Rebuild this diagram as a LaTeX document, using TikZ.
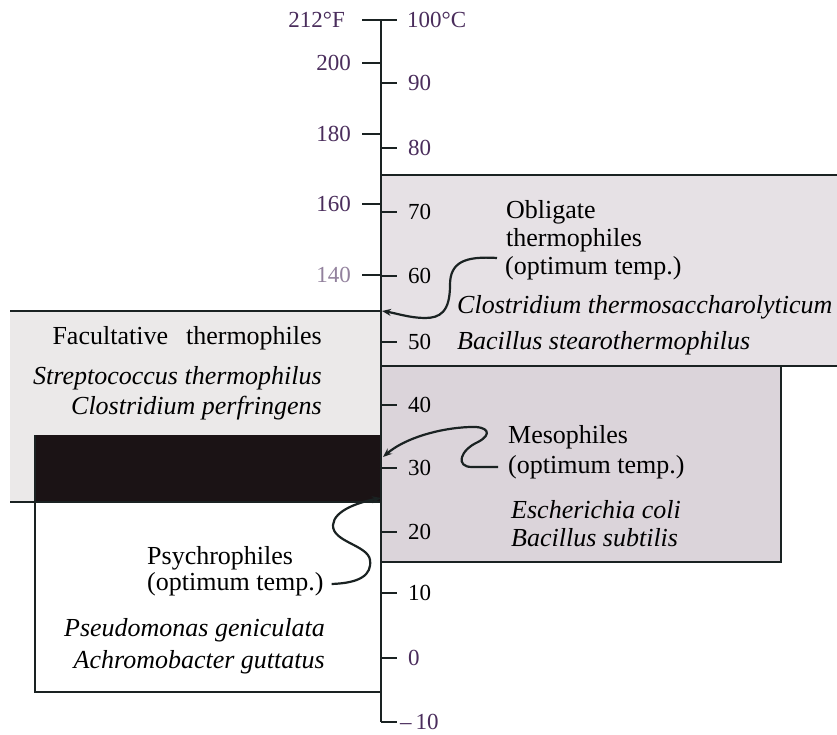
\documentclass[tikz,border=0pt]{standalone}
\usepackage{fontspec}
\setmainfont{Liberation Serif}
\usetikzlibrary{arrows.meta}
\definecolor{ink}{HTML}{1A2222}
\definecolor{scalepurple}{HTML}{4A2D5C}
\definecolor{obfill}{HTML}{E6E1E5}
\definecolor{mefill}{HTML}{DBD4DA}
\definecolor{fafill}{HTML}{EBE9E9}
\definecolor{band}{HTML}{1B1315}
\begin{document}
\begin{tikzpicture}[x=1pt,y=-1pt,
  boxline/.style={draw=ink, line width=2.2pt},
  tickline/.style={draw=ink, line width=2pt},
  maintxt/.style={font=\fontsize{26}{29}\selectfont, inner sep=0pt, text=black},
  spectxt/.style={font=\fontsize{26}{29}\selectfont\itshape, inner sep=0pt, text=black},
  flab/.style={font=\fontsize{23}{25}\selectfont, inner sep=0pt, anchor=east, text=scalepurple},
  clab/.style={font=\fontsize{23}{25}\selectfont, inner sep=0pt, anchor=west, text=black},
  conn/.style={draw=ink, line width=2.2pt},
  tipend/.style={-{Stealth[length=9pt,width=7pt]}}
]
\useasboundingbox (0,0) rectangle (837,735);
\fill[white] (0,0) rectangle (837,735);

% shaded ranges
\fill[obfill] (381,175) rectangle (837,366);
\fill[mefill] (381,366) rectangle (781,562);
\fill[fafill] (10,311) rectangle (381,502);
\fill[band] (35,435) rectangle (381,502);

% box lines
\draw[boxline] (381,175) -- (837,175);
\draw[boxline] (381,366) -- (837,366);
\draw[boxline] (781,366) -- (781,562) -- (381,562);
\draw[boxline] (10,311) -- (381,311);
\draw[boxline] (10,502) -- (381,502);
\draw[boxline] (35,435) -- (35,692) -- (381,692);

% axis
\draw[line width=2.4pt, draw=ink] (381,20) -- (381,722);
\foreach \y in {20,63,134,204,275} \draw[tickline] (362,\y) -- (381,\y);
\foreach \y in {20,83,148,212,276,342,405,468,532,593,658,722} \draw[tickline] (381,\y) -- (397,\y);

% Fahrenheit labels
\node[flab] (f212) at (345,20) {212°F};
\node[flab] (f200) at (351,63) {200};
\node[flab] (f180) at (351,134) {180};
\node[flab] (f160) at (351,204) {160};
\node[flab, text=scalepurple!60] (f140) at (351,275) {140};

% Celsius labels
\node[clab, text=scalepurple] (c100) at (407,20) {100°C};
\node[clab, text=scalepurple] (c90) at (408,83) {90};
\node[clab, text=scalepurple] (c80) at (408,148) {80};
\node[clab] (c70) at (408,212) {70};
\node[clab] (c60) at (408,276) {60};
\node[clab] (c50) at (408,342) {50};
\node[clab] (c40) at (408,405) {40};
\node[clab] (c30) at (408,468) {30};
\node[clab] (c20) at (408,532) {20};
\node[clab] (c10) at (408,593) {10};
\node[clab, text=scalepurple] (c0) at (408,658) {0};
\node[clab, text=scalepurple] (cm10) at (400,722) {–\,10};

% Obligate thermophiles
\node[maintxt, anchor=west] (ob1) at (506,212) {Obligate};
\node[maintxt, anchor=west] (ob2) at (506,240) {thermophiles};
\node[maintxt, anchor=west] (ob3) at (505,268) {(optimum temp.)};
\node[spectxt, anchor=west] (ct) at (457,307) {Clostridium thermosaccharolyticum};
\node[spectxt, anchor=west] (bst) at (457,343) {Bacillus stearothermophilus};

% Facultative thermophiles
\node[maintxt, anchor=east] (ft) at (322,338) {Facultative\hspace{18pt}thermophiles};
\node[spectxt, anchor=east] (st) at (322,378) {Streptococcus thermophilus};
\node[spectxt, anchor=east] (cp) at (322,408) {Clostridium perfringens};

% Mesophiles
\node[maintxt, anchor=west] (me1) at (508,437) {Mesophiles};
\node[maintxt, anchor=west] (me2) at (508,467) {(optimum temp.)};
\node[spectxt, anchor=west] (ec) at (511,510) {Escherichia coli};
\node[spectxt, anchor=west] (bs) at (511,538) {Bacillus subtilis};

% Psychrophiles
\node[maintxt, anchor=west] (ps1) at (147,558) {Psychrophiles};
\node[maintxt, anchor=west] (ps2) at (147,584) {(optimum temp.)};
\node[spectxt, anchor=east] (pg) at (325,630) {Pseudomonas geniculata};
\node[spectxt, anchor=east] (ag) at (325,662) {Achromobacter guttatus};

% arrow targets on the axis
\coordinate (oblT) at (382,311);
\coordinate (mesT) at (383,457);
\coordinate (psyT) at (381,498);

% connectors
\draw[conn, tipend] (ob3.west) ++(-8,-10)
  .. controls (465,256) and (450,262) .. (450,285)
  .. controls (450,312) and (440,318) .. (425,318)
  .. controls (410,318) and (395,313) .. (oblT);
\draw[conn, tipend] (me2.west) ++(-10,0) -- (472,467)
  .. controls (455,467) and (460,450) .. (478,442)
  .. controls (493,434) and (488,426) .. (470,427)
  .. controls (440,428) and (405,438) .. (mesT);
\draw[conn, tipend] (ps2.east) ++(8,0)
  .. controls (360,583) and (372,575) .. (370,560)
  .. controls (368,545) and (332,542) .. (333,525)
  .. controls (334,510) and (360,502) .. (psyT);
\end{tikzpicture}
\end{document}
